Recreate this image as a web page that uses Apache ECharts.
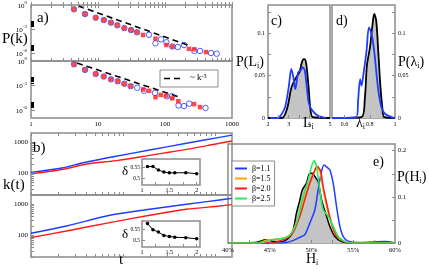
<!DOCTYPE html>
<html><head><meta charset="utf-8">
<script src="https://cdn.jsdelivr.net/npm/echarts@6/dist/echarts.min.js"></script>
<style>html,body{margin:0;padding:0;background:#fff}#c{width:429px;height:272px}</style>
</head><body><div id="c"></div>
<script>
// ---------------- data ----------------
// Panel a) top: degree distribution P(k)
const aTopCircK = [4.38,6.4,9.25,12.2,15.6,19.4,24.7,31.1,38.2,57.7,72.1,87.1,105,128.5,155,192,274,333,486,591];
const aTopCircP = [0.288,0.0741,0.0257,0.0132,6.2e-3,2.9e-3,1.3e-3,7.4e-4,3.9e-4,1.9e-4,1.6e-5,5.1e-5,2.2e-5,6.5e-6,5.6e-6,1.0e-5,1.8e-6,1.8e-6,1.0e-6,8.1e-7];
const aTopSqK = [4.38,6.4,9.25,12.2,15.6,19.4,24.7,31.1,38.2,47,72.1,105,128.5,228,274,409];
const aTopSqP = [0.288,0.0741,0.0257,0.0132,6.2e-3,2.9e-3,1.3e-3,7.4e-4,3.9e-4,1.8e-4,6.2e-5,1.0e-5,6.5e-6,3.3e-6,2.9e-6,1.3e-6];
const aTopFitK = [5.1, 229];
const aTopFitP = [0.754, 8.3e-6];
// Panel a) bottom
const aBotCircK = [4.38,6.4,9.25,12.2,15.6,19.7,24.7,30.7,38.5,48.6,70.8,106,127,159,192,230,402];
const aBotCircP = [0.389,0.0813,0.0257,0.0123,5.6e-3,3.2e-3,1.6e-3,8.1e-4,5.1e-4,2.2e-4,1.2e-4,4.6e-5,4.6e-5,3.5e-6,2.9e-6,5.8e-6,1.7e-6];
const aBotSqK = [4.38,6.4,9.25,12.2,15.6,19.7,24.7,30.7,47.4,58,72.1,86.3,103.6,128.5,158,271,333];
const aBotSqP = [0.389,0.0813,0.0257,0.0123,5.6e-3,3.2e-3,1.6e-3,8.1e-4,3.2e-4,2.2e-4,3.6e-5,6.9e-5,5.6e-5,2.6e-5,1.15e-5,5.1e-6,2.2e-6];
const aBotFitK = [4.86, 156];
const aBotFitP = [0.56, 4.2e-5];
// Panel b) k(t)
const bTopT = [1, 2.24, 3.7, 7.85, 19.5, 49, 112, 153];
const bTopBlue = [107, 151, 219, 343, 562, 933, 1445, 1700];
const bTopTr = [1, 2.24, 4.03, 8.5, 19.5, 49, 112, 153];
const bTopRed = [95.5, 135, 200, 257, 380, 589, 933, 1100];
const bBotT = [1, 2.44, 7.2, 19.5, 49, 112, 153];
const bBotBlue = [116, 200, 442, 692, 1000, 1380, 1550];
const bBotRed = [85, 138, 257, 442, 692, 881, 977];
// insets delta(beta)
const insetBeta = [1.1,1.2,1.3,1.4,1.5,1.6,1.8,2.0];
const insetTopDelta = [0.555,0.555,0.539,0.530,0.526,0.526,0.527,0.522];
const insetBotDelta = [0.578,0.550,0.539,0.523,0.519,0.515,0.513,0.508];
// Panel c) P(L_i)
const cBlackL = [2.0,2.67,2.92,3.13,3.32,3.52,3.62,3.69,3.76,3.85,3.95,4.06,4.17,5.0];
const cBlackP = [0,0,0.0108,0.0356,0.0462,0.054,0.064,0.069,0.0696,0.064,0.040,0.0088,0.001,0];
const cBlueL = [2.1,2.5,2.67,2.83,3.0,3.13,3.24,3.32,3.46,3.57,3.68,3.78,3.88,3.98,4.14,4.39,4.63,4.8];
const cBlueP = [0,0,0.005,0.013,0.036,0.058,0.046,0.034,0.054,0.056,0.060,0.056,0.036,0.017,0.009,0.003,0.001,0];
// Panel d) P(lambda_i)
const dBlackX = [0.5,0.734,0.761,0.777,0.801,0.819,0.835,0.851,0.867,0.883,0.899,0.915,1.0];
const dBlackP = [0,0.001,0.024,0.062,0.083,0.107,0.123,0.115,0.079,0.040,0.013,0.001,0];
const dBlueX = [0.5,0.695,0.707,0.723,0.734,0.75,0.774,0.793,0.814,0.835,0.856,0.872,0.894,0.92,0.974,1.0];
const dBlueP = [0,0.001,0.02,0.046,0.038,0.052,0.079,0.107,0.099,0.079,0.048,0.028,0.012,0.005,0.001,0];
// Panel e) P(H_i)
const eBlackH = [40,43.2,44.6,45.6,46.4,47.6,48.2,48.6,48.9,49.4,49.8,50.1,50.4,50.8,51.2,51.8,52.2,52.8,53.6,54.6,60];
const eBlackP = [0,0.001,0.007,0.003,0.003,0.018,0.065,0.093,0.115,0.13,0.151,0.151,0.144,0.133,0.094,0.058,0.036,0.014,0.003,0,0];
const eB11H = [40,46.5,47.6,48.8,49.2,49.8,50.4,50.8,51.2,51.5,51.8,52.2,52.6,53.0,53.4,53.8,54.4,55.8,58.8,60];
const eB11P = [0,0,0.004,0.014,0.018,0.043,0.072,0.115,0.155,0.169,0.165,0.158,0.129,0.079,0.036,0.014,0.004,0.001,0.003,0];
const eB15H = [40,43.5,44.8,46.4,47.6,48.6,49.2,49.8,50.3,50.6,51.0,51.4,52.0,52.6,53.2,54.0,55,60];
const eB15P = [0,0,0.007,0.009,0.022,0.065,0.10,0.13,0.151,0.165,0.155,0.115,0.065,0.029,0.011,0.003,0,0];
const eB20H = [40,45.0,46.0,47.6,48.6,49.2,49.8,50.4,50.7,51.1,51.4,51.9,52.4,52.9,53.6,54.4,60];
const eB20P = [0,0,0.003,0.018,0.058,0.094,0.13,0.158,0.166,0.155,0.122,0.079,0.043,0.018,0.007,0,0];
const eB25H = [40,43.8,45.2,47.2,48.2,48.9,49.5,50.0,50.3,50.6,51.0,51.4,52.0,52.6,53.2,54.0,55,60];
const eB25P = [0,0,0.007,0.014,0.043,0.094,0.13,0.165,0.178,0.165,0.115,0.072,0.058,0.036,0.014,0.003,0,0];
const eNames = ['β=1.1','β=1.5','β=2.0','β=2.5'];
// tick labels
const aYLabels = [0,-3,-6];
const aXLabels = [1,10,100,1000];
const bYLabels = [100,1000];

// ---------------- styling ----------------
const SERIF = 'Liberation Serif';
const FRAME = '#8c8c8c';
const BLUE = '#1f3cff', RED = '#ff1a1a', ORANGE = '#ffa500', GREEN = '#22ee55', FILL = '#c4c4c4';
const lg = Math.log10;
const zip = (xs, ys, fx, fy) => xs.map((x, i) => [fx ? fx(x) : x, fy ? fy(ys[i]) : ys[i]]);
const logTicks = (lo, hi) => { const o = []; for (let d = Math.floor(lo); d <= hi; d++) for (let n = 1; n < 10; n++) { const v = d + lg(n); if (v >= lo - 1e-9 && v <= hi + 1e-9) o.push(v); } return o; };

function grid(left, top, width, height) {
  return { left, top, width, height, show: true, borderColor: FRAME, borderWidth: 1.5, backgroundColor: 'transparent' };
}
function axis(type, gi, min, max, o) {
  o = o || {};
  const a = {
    type: 'value', gridIndex: gi, min, max,
    axisLine: { show: false }, splitLine: { show: false },
    axisTick: { show: !!o.ticks, inside: true, length: o.tickLen || 3, lineStyle: { color: o.tickColor || FRAME, width: 1 }, customValues: o.ticks },
    axisLabel: { show: !!o.labels, customValues: o.labels, formatter: o.fmt, margin: o.margin == null ? 3 : o.margin,
      fontFamily: SERIF, fontSize: o.fs || 7, color: '#000', rich: o.rich, showMinLabel: true, showMaxLabel: true },
    z: 5
  };
  if (o.position) a.position = o.position;
  return a;
}
const supRich = {
  m: { fontFamily: SERIF, fontSize: 7, lineHeight: 9, verticalAlign: 'bottom' },
  s: { fontFamily: SERIF, fontSize: 5, lineHeight: 5, verticalAlign: 'top' }
};

const grids = [
  grid(31, 5, 201, 56),    // 0 a top
  grid(31, 61, 201, 57),   // 1 a bottom
  grid(31, 133, 201, 62),  // 2 b top
  grid(31, 195, 201, 62),  // 3 b bottom
  grid(142, 159, 58, 26),  // 4 inset top
  grid(142, 221, 58, 26),  // 5 inset bottom
  grid(268, 5, 62, 113),   // 6 c
  grid(332, 5, 63, 113),   // 7 d
  grid(228, 144, 167, 99)  // 8 e
];

const aXT = logTicks(0, 3);
const bXT = logTicks(0, 2.185);
const bYT = logTicks(1.3, 3.3);
const blackMinor = [];
[-3, -6].forEach(d => { for (let n = 2; n < 10; n++) blackMinor.push(d + lg(n)); });
const powFmt = v => String(Math.round(Math.pow(10, v)));
const supFmt = v => '{m|10}{s|' + v + '}';

const xAxes = [
  axis('x', 0, 0, 3, { ticks: aXT, position: 'bottom' }),
  axis('x', 0, 0, 3, { ticks: aXT, position: 'top' }),
  axis('x', 1, 0, 3, { ticks: aXT, labels: aXLabels.map(lg), fmt: powFmt, position: 'bottom' }),
  axis('x', 2, 0, 2.185, { ticks: bXT, position: 'bottom' }),
  axis('x', 2, 0, 2.185, { ticks: bXT, position: 'top' }),
  axis('x', 3, 0, 2.185, { ticks: bXT, position: 'bottom' }),
  axis('x', 4, 1, 2.06, { ticks: [1.25, 1.5, 1.75, 2], labels: [1, 1.5, 2], fs: 6, margin: 2 }),
  axis('x', 5, 1, 2.06, { ticks: [1.25, 1.5, 1.75, 2], labels: [1, 1.5, 2], fs: 6, margin: 2 }),
  axis('x', 6, 2, 5, { ticks: [2.5, 3, 3.5, 4, 4.5], labels: [2, 3, 4, 5], fs: 6, margin: 3 }),
  axis('x', 7, 0.5, 1, { ticks: [0.6, 0.7, 0.8, 0.9], labels: [0.6, 0.8, 1], fs: 6, margin: 3 }),
  axis('x', 8, 40, 60, { ticks: [42.5, 45, 47.5, 50, 52.5, 55, 57.5], labels: [40, 45, 50, 55, 60], fmt: v => v + '%', fs: 6.5, margin: 4 })
];
const yAxes = [
  axis('y', 0, -7, 0, { ticks: [-3, -6], tickLen: 4, labels: aYLabels, fmt: supFmt, rich: supRich, margin: 4, position: 'left' }),
  axis('y', 0, -7, 0, { ticks: blackMinor, tickColor: '#000', tickLen: 3, position: 'left' }),
  axis('y', 1, -7, 0, { ticks: [-3, -6], tickLen: 4, labels: aYLabels, fmt: supFmt, rich: supRich, margin: 4, position: 'left' }),
  axis('y', 1, -7, 0, { ticks: blackMinor, tickColor: '#000', tickLen: 3, position: 'left' }),
  axis('y', 2, 1.3, 3.3, { ticks: bYT, labels: bYLabels.map(lg), fmt: powFmt, fs: 7 }),
  axis('y', 3, 1.3, 3.3, { ticks: bYT, labels: bYLabels.map(lg), fmt: powFmt, fs: 7 }),
  axis('y', 4, 0.47, 0.59, { ticks: [0.5, 0.55], labels: [0.5, 0.55], fs: 5.5, margin: 2 }),
  axis('y', 5, 0.47, 0.59, { ticks: [0.5, 0.55], labels: [0.5, 0.55], fs: 5.5, margin: 2 }),
  axis('y', 6, 0, 0.1335, { ticks: [0.025, 0.05, 0.075, 0.1, 0.125], labels: [0, 0.05, 0.1], fs: 6, margin: 3, position: 'left' }),
  axis('y', 7, 0, 0.1335, { ticks: [0.025, 0.05, 0.075, 0.1, 0.125], labels: [0, 0.05, 0.1], fs: 6, margin: 3, position: 'right' }),
  axis('y', 8, 0, 0.2145, { ticks: [0.05, 0.1, 0.15, 0.2], labels: [0, 0.1, 0.2], fs: 6.5, margin: 3, position: 'right' })
];

function scat(xi, yi, data, kind, color) {
  const circ = kind === 'circ';
  return { type: 'scatter', xAxisIndex: xi, yAxisIndex: yi, data, symbol: circ ? 'circle' : 'rect', symbolSize: circ ? 5.5 : 4.5,
    itemStyle: circ ? { color: 'rgba(0,0,0,0)', borderColor: color, borderWidth: 1 } : { color }, z: circ ? 3 : 4, silent: true };
}
function line(xi, yi, data, color, w, o) {
  o = o || {};
  return { type: 'line', xAxisIndex: xi, yAxisIndex: yi, data, name: o.name, showSymbol: !!o.symbol, symbol: o.symbol || 'none', symbolSize: o.symbolSize || 4,
    smooth: o.smooth || false, lineStyle: { color, width: w, type: o.dash || 'solid' }, itemStyle: { color }, areaStyle: o.area ? { color: o.area, opacity: 1 } : undefined,
    clip: true, z: o.z || 3, silent: true };
}

const series = [
  scat(0, 0, zip(aTopCircK, aTopCircP, lg, lg), 'circ', BLUE),
  scat(0, 0, zip(aTopSqK, aTopSqP, lg, lg), 'sq', RED),
  line(0, 0, zip(aTopFitK, aTopFitP, lg, lg), '#000', 1.6, { dash: [6, 4] }),
  scat(2, 2, zip(aBotCircK, aBotCircP, lg, lg), 'circ', BLUE),
  scat(2, 2, zip(aBotSqK, aBotSqP, lg, lg), 'sq', RED),
  line(2, 2, zip(aBotFitK, aBotFitP, lg, lg), '#000', 1.6, { dash: [6, 4] }),
  line(3, 4, zip(bTopT, bTopBlue, lg, lg), BLUE, 1.4, { smooth: 0.3 }),
  line(3, 4, zip(bTopTr, bTopRed, lg, lg), RED, 1.4, { smooth: 0.3 }),
  line(5, 5, zip(bBotT, bBotBlue, lg, lg), BLUE, 1.4, { smooth: 0.3 }),
  line(5, 5, zip(bBotT, bBotRed, lg, lg), RED, 1.4, { smooth: 0.3 }),
  line(6, 6, zip(insetBeta, insetTopDelta), '#000', 1, { symbol: 'circle', symbolSize: 3.5 }),
  line(7, 7, zip(insetBeta, insetBotDelta), '#000', 1, { symbol: 'circle', symbolSize: 3.5 }),
  line(8, 8, zip(cBlackL, cBlackP), '#000', 1.8, { smooth: 0.3, area: FILL, z: 2 }),
  line(8, 8, zip(cBlueL, cBlueP), BLUE, 1.8, { smooth: 0.3 }),
  line(9, 9, zip(dBlackX, dBlackP), '#000', 1.8, { smooth: 0.3, area: FILL, z: 2 }),
  line(9, 9, zip(dBlueX, dBlueP), BLUE, 1.8, { smooth: 0.3 }),
  line(10, 10, zip(eBlackH, eBlackP), '#000', 1.5, { smooth: 0.3, area: FILL, z: 2 }),
  line(10, 10, zip(eB11H, eB11P), BLUE, 1.5, { smooth: 0.3, name: eNames[0] }),
  line(10, 10, zip(eB15H, eB15P), ORANGE, 1.5, { smooth: 0.3, name: eNames[1] }),
  line(10, 10, zip(eB20H, eB20P), RED, 1.5, { smooth: 0.3, name: eNames[2] }),
  line(10, 10, zip(eB25H, eB25P), GREEN, 1.5, { smooth: 0.3, name: eNames[3] })
];

function txt(x, y, text, size, rich) {
  return { type: 'text', x, y, z: 100, style: { text, fontFamily: SERIF, fontSize: size, fill: '#000', rich } };
}
const subRich = (n, s, drop) => ({
  n: { fontFamily: SERIF, fontSize: n, lineHeight: n, verticalAlign: 'top', fill: '#000' },
  s: { fontFamily: SERIF, fontSize: s, lineHeight: s, verticalAlign: 'top', padding: [drop, 0, 0, 0], fill: '#000' }
});
const graphic = [
  txt(37, 11, 'a)', 15),
  txt(2, 32, 'P(k)', 15),
  txt(33, 141, 'b)', 15),
  txt(3, 178, 'k(t)', 15),
  txt(119, 253, 't', 15),
  txt(122, 165, 'δ', 13),
  txt(122, 228, 'δ', 13),
  txt(271, 14, 'c)', 14),
  txt(336, 14, 'd)', 14),
  txt(373, 155, 'e)', 14),
  txt(236, 55, '{n|P(L}{s|i}{n|)}', 14, subRich(14, 8, 7)),
  txt(398, 55, '{n|P(λ}{s|i}{n|)}', 14, subRich(14, 8, 7)),
  txt(397, 170, '{n|P(H}{s|i}{n|)}', 14, subRich(14, 8, 7)),
  txt(303, 116, '{n|L}{s|i}', 14, subRich(14, 8, 7)),
  txt(356, 116, '{n|λ}{s|i}', 14, subRich(14, 8, 7)),
  txt(306, 252, '{n|H}{s|i}', 14, subRich(14, 8, 7)),
  { type: 'rect', z: 100, shape: { x: 160, y: 70, width: 58, height: 17 }, style: { fill: '#fff', stroke: FRAME, lineWidth: 1 } },
  { type: 'line', z: 101, shape: { x1: 164, y1: 78.5, x2: 182, y2: 78.5 }, style: { stroke: '#000', lineWidth: 1.6, lineDash: [6, 4] } },
  txt(190, 73, '{n|~ k}{p|-3}', 9, { n: { fontFamily: SERIF, fontSize: 9, lineHeight: 9, verticalAlign: 'top' }, p: { fontFamily: SERIF, fontSize: 6, lineHeight: 6, verticalAlign: 'top' } })
];

const chart = echarts.init(document.getElementById('c'), null, { renderer: 'canvas' });
chart.setOption({
  animation: false,
  backgroundColor: '#fff',
  grid: grids,
  xAxis: xAxes,
  yAxis: yAxes,
  legend: {
    left: 232, top: 161, orient: 'vertical', data: eNames, icon: 'rect', itemWidth: 12, itemHeight: 2, itemGap: 1,
    textStyle: { fontFamily: SERIF, fontSize: 8, lineHeight: 9, color: '#000' },
    borderColor: FRAME, borderWidth: 1, padding: [3, 4, 3, 3], backgroundColor: '#fff', selectedMode: false
  },
  series,
  graphic
});
</script>
</body></html>
